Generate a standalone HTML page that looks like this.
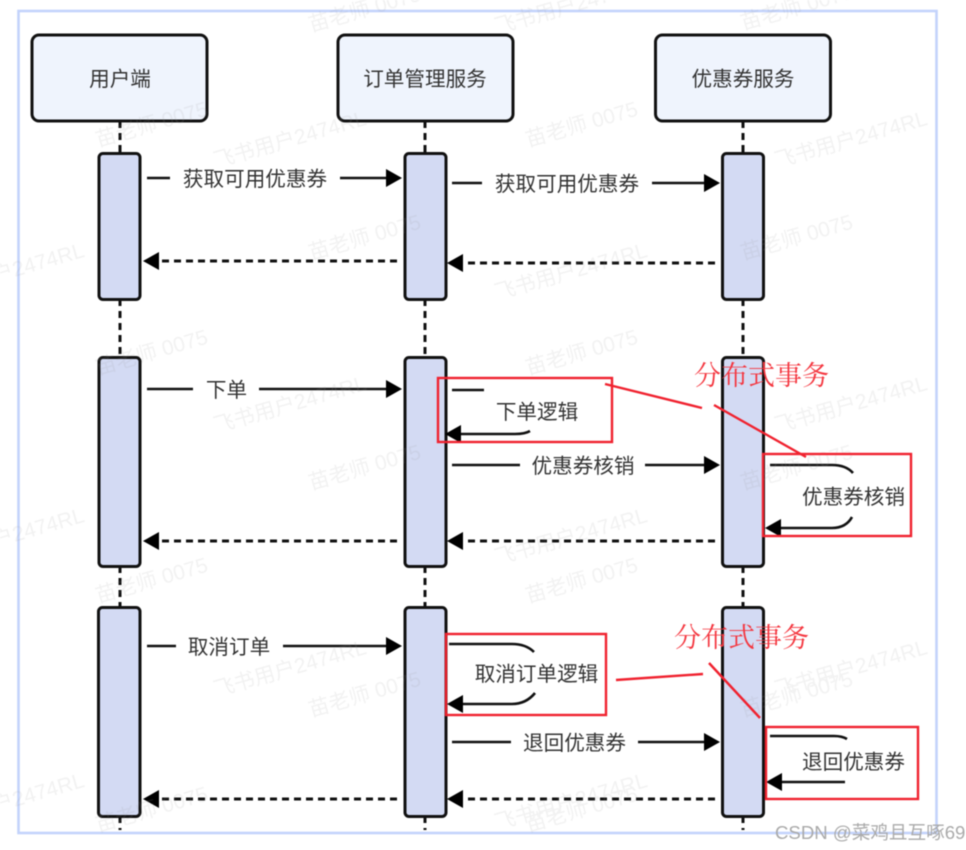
<!DOCTYPE html>
<html lang="zh">
<head>
<meta charset="utf-8">
<title>Sequence diagram</title>
<style>
html,body{margin:0;padding:0;background:#fff;width:966px;height:850px;overflow:hidden}
svg{display:block;filter:blur(.5px)}
text{font-family:"Liberation Sans","Noto Sans CJK SC",sans-serif}
.l{font-size:20.6px;fill:#333;text-anchor:middle}
.box{fill:#eff4fd;stroke:#111;stroke-width:3}
.act{fill:#d3daf3;stroke:#111;stroke-width:3}
.ll{stroke:#111;stroke-width:3;stroke-dasharray:7 5;fill:none}
.s{stroke:#111;stroke-width:2.6;fill:none}
.d{stroke:#111;stroke-width:3;stroke-dasharray:7 5;fill:none}
.h{fill:#000}
.r{fill:none;stroke:#f0222f;stroke-width:2.4}
.rl{stroke:#f0222f;stroke-width:2.4;fill:none}
.rt{font-family:"Noto Serif CJK SC","Liberation Serif",serif;font-size:27px;fill:#f4363f}
.w{font-size:21px;fill:#9a9a9a;opacity:.13}
</style>
</head>
<body>
<svg width="966" height="850" viewBox="0 0 966 850" xmlns="http://www.w3.org/2000/svg">
<rect width="966" height="850" fill="#fff"/>
<rect x="18.5" y="11" width="918" height="822" fill="#fff" stroke="#c3d3fb" stroke-width="2.6"/>

<path class="ll" d="M120 121V153M120 299V357M120 566V607M120 816V830"/>
<path class="ll" d="M425 121V153M425 299V357M425 566V607M425 816V830"/>
<path class="ll" d="M743 121V153M743 299V357M743 566V607M743 816V830"/>

<rect class="box" x="32" y="35" width="175" height="86" rx="7"/>
<rect class="box" x="338" y="35" width="175" height="86" rx="7"/>
<rect class="box" x="655.500" y="35" width="175" height="86" rx="7"/>
<text class="l" x="120" y="86">用户端</text>
<text class="l" x="425" y="86">订单管理服务</text>
<text class="l" x="743" y="86">优惠券服务</text>

<rect class="act" x="99" y="153.500" width="41" height="146" rx="4"/>
<rect class="act" x="405" y="153.500" width="41" height="146" rx="4"/>
<rect class="act" x="722.500" y="153.500" width="41" height="146" rx="4"/>
<rect class="act" x="99" y="357.500" width="41" height="209" rx="4"/>
<rect class="act" x="405" y="357.500" width="41" height="209" rx="4"/>
<rect class="act" x="722.500" y="357.500" width="41" height="209" rx="4"/>
<rect class="act" x="98.500" y="607.500" width="41.500" height="209" rx="4"/>
<rect class="act" x="405" y="607.500" width="41" height="209" rx="4"/>
<rect class="act" x="722.500" y="607.500" width="41" height="209" rx="4"/>

<!-- group 1 -->
<path class="s" d="M147 178H170M340 178H388"/>
<polygon class="h" points="402,178 386,169 386,187"/>
<text class="l" x="255" y="186">获取可用优惠券</text>
<path class="s" d="M452 183H482M652 183H706"/>
<polygon class="h" points="720,183 704,174 704,192"/>
<text class="l" x="567" y="191">获取可用优惠券</text>
<path class="d" d="M397 261H156"/>
<polygon class="h" points="143,261 159,252 159,270"/>
<path class="d" d="M715 263H460"/>
<polygon class="h" points="447,263 463,254 463,272"/>

<!-- group 2 -->
<path class="s" d="M147 389H193M259 389H388"/>
<polygon class="h" points="402,389 386,380 386,398"/>
<text class="l" x="226.500" y="397">下单</text>
<path class="s" d="M452 390H484"/>
<text class="l" x="537" y="419">下单逻辑</text>
<path class="s" d="M460 434H515Q525 434 530 431"/>
<polygon class="h" points="445,434 461,425 461,443"/>
<path class="s" d="M452 465H520M645 465H706"/>
<polygon class="h" points="720,465 704,456 704,474"/>
<text class="l" x="583" y="473">优惠券核销</text>
<path class="s" d="M770 465H832Q846 465 853 473"/>
<text class="l" x="853.500" y="504">优惠券核销</text>
<path class="s" d="M780 528H832Q846 528 852 517"/>
<polygon class="h" points="765,528 781,519 781,537"/>
<path class="d" d="M397 541H156"/>
<polygon class="h" points="143,541 159,532 159,550"/>
<path class="d" d="M715 541H460"/>
<polygon class="h" points="447,541 463,532 463,550"/>

<!-- group 3 -->
<path class="s" d="M147 646H176M283 646H388"/>
<polygon class="h" points="402,646 386,637 386,655"/>
<text class="l" x="229" y="654">取消订单</text>
<path class="s" d="M449 644H512Q526 644 534 652"/>
<text class="l" x="536.500" y="681">取消订单逻辑</text>
<path class="s" d="M462 704H512Q526 704 535 693"/>
<polygon class="h" points="447,704 463,695 463,713"/>
<path class="s" d="M452 742H511M638 742H706"/>
<polygon class="h" points="720,742 704,733 704,751"/>
<text class="l" x="574.500" y="750">退回优惠券</text>
<path class="s" d="M770 736H834Q842 736 847 739"/>
<text class="l" x="853.500" y="769">退回优惠券</text>
<path class="s" d="M780 782H845"/>
<polygon class="h" points="766,782 782,773 782,791"/>
<path class="d" d="M397 799H156"/>
<polygon class="h" points="143,799 159,790 159,808"/>
<path class="d" d="M715 799H460"/>
<polygon class="h" points="447,799 463,790 463,808"/>

<!-- watermarks -->
<g class="w">
<text transform="translate(98 147) rotate(-16)">苗老师 0075</text>
<text transform="translate(311 32) rotate(-16)">苗老师 0075</text>
<text transform="translate(743 30) rotate(-16)">苗老师 0075</text>
<text transform="translate(528 147) rotate(-16)">苗老师 0075</text>
<text transform="translate(311 260) rotate(-16)">苗老师 0075</text>
<text transform="translate(743 260) rotate(-16)">苗老师 0075</text>
<text transform="translate(98 375) rotate(-16)">苗老师 0075</text>
<text transform="translate(528 375) rotate(-16)">苗老师 0075</text>
<text transform="translate(311 490) rotate(-16)">苗老师 0075</text>
<text transform="translate(743 490) rotate(-16)">苗老师 0075</text>
<text transform="translate(98 603) rotate(-16)">苗老师 0075</text>
<text transform="translate(528 603) rotate(-16)">苗老师 0075</text>
<text transform="translate(311 717) rotate(-16)">苗老师 0075</text>
<text transform="translate(743 717) rotate(-16)">苗老师 0075</text>
<text transform="translate(98 832) rotate(-16)">苗老师 0075</text>
<text transform="translate(528 832) rotate(-16)">苗老师 0075</text>
<text transform="translate(216 168) rotate(-16)">飞书用户2474RL</text>
<text transform="translate(497 34) rotate(-16)">飞书用户2474RL</text>
<text transform="translate(777 168) rotate(-16)">飞书用户2474RL</text>
<text transform="translate(-66 300) rotate(-16)">飞书用户2474RL</text>
<text transform="translate(497 300) rotate(-16)">飞书用户2474RL</text>
<text transform="translate(216 433) rotate(-16)">飞书用户2474RL</text>
<text transform="translate(777 433) rotate(-16)">飞书用户2474RL</text>
<text transform="translate(-66 565) rotate(-16)">飞书用户2474RL</text>
<text transform="translate(497 565) rotate(-16)">飞书用户2474RL</text>
<text transform="translate(216 697) rotate(-16)">飞书用户2474RL</text>
<text transform="translate(777 697) rotate(-16)">飞书用户2474RL</text>
<text transform="translate(-66 830) rotate(-16)">飞书用户2474RL</text>
<text transform="translate(497 830) rotate(-16)">飞书用户2474RL</text>
</g>

<!-- red annotations -->
<rect class="r" x="438" y="378" width="174" height="64"/>
<rect class="r" x="763" y="454" width="148" height="82"/>
<rect class="r" x="446" y="634" width="160" height="81"/>
<rect class="r" x="766" y="727" width="152" height="72"/>
<path class="rl" d="M605 384L702 408M714 405L806 457"/>
<path class="rl" d="M616 680L703 674M709 663L760 718"/>
<text class="rt" x="694" y="385">分布式事务</text>
<text class="rt" x="674" y="647">分布式事务</text>

<text x="775" y="839" style="font-size:18.6px;fill:#aaa;font-family:'Liberation Sans','Noto Sans CJK SC',sans-serif">CSDN @菜鸡且互啄69</text>
</svg>
</body>
</html>
